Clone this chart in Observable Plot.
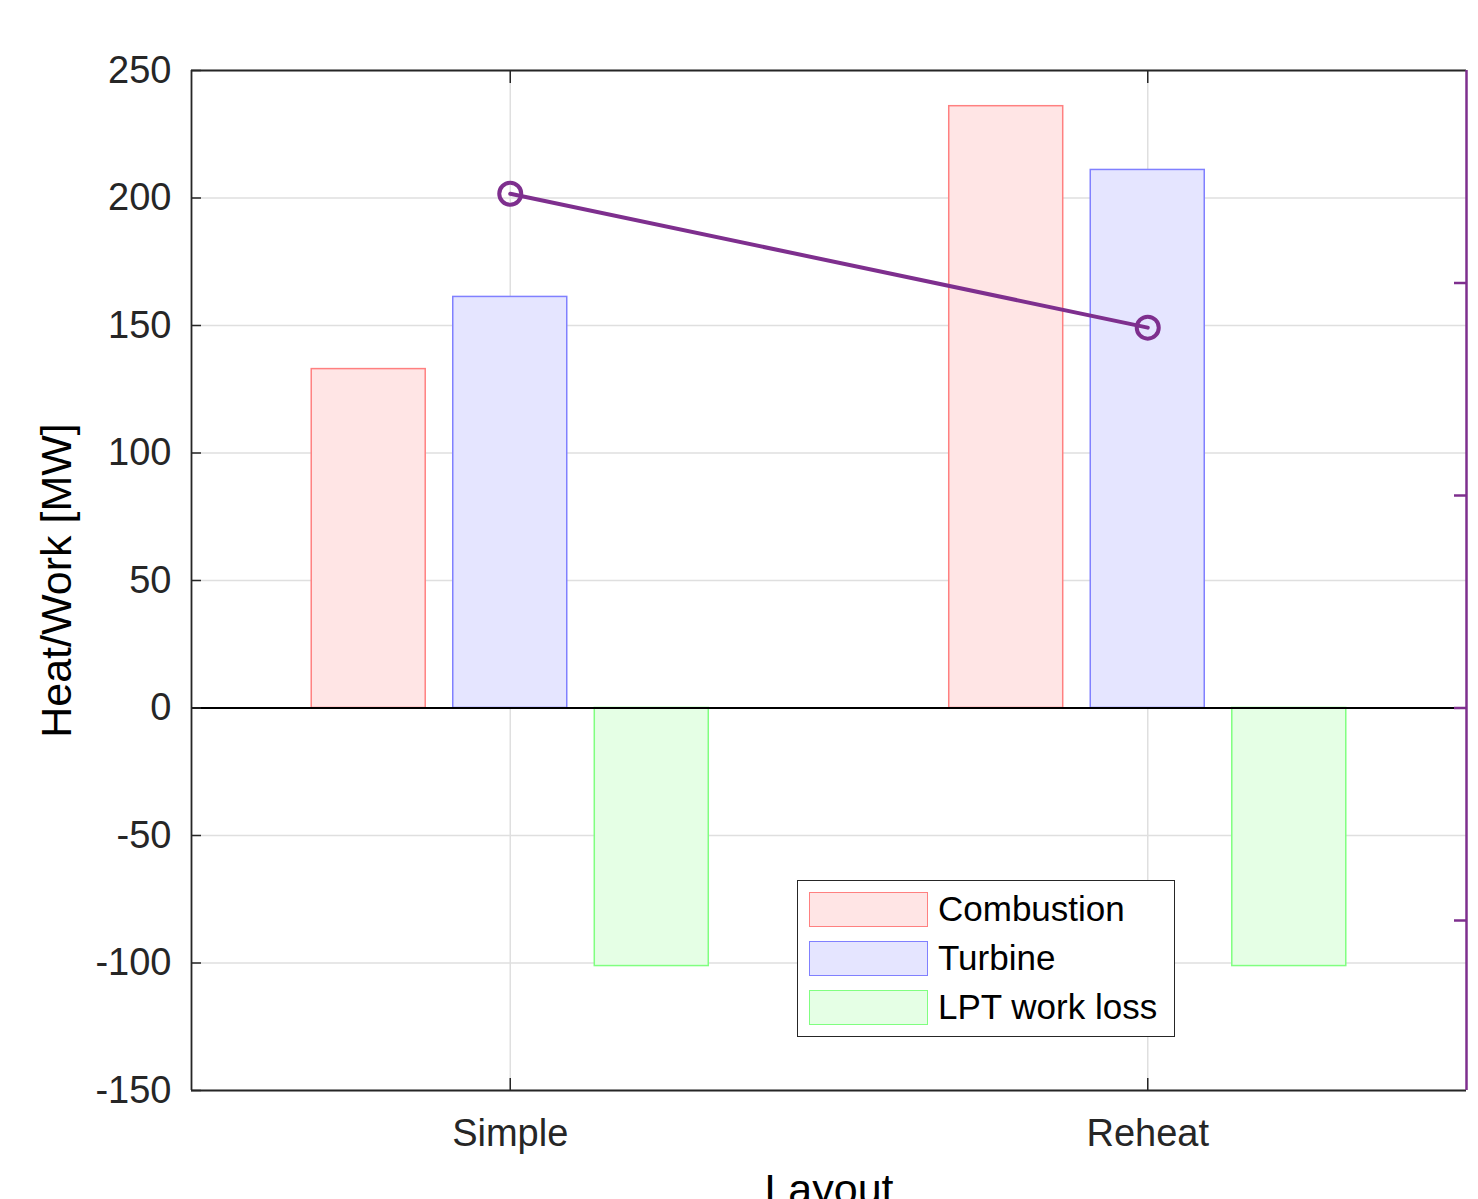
<!DOCTYPE html>
<html>
<head>
<meta charset="utf-8">
<script src="https://cdn.jsdelivr.net/npm/d3@7"></script>
<script src="https://cdn.jsdelivr.net/npm/@observablehq/plot@0.6"></script>
<style>
  html, body { margin: 0; padding: 0; background: #fff; }
  #wrap { position: relative; width: 1478px; height: 1199px; overflow: hidden; font-family: "Liberation Sans", Arial, sans-serif; }
  #legend { position: absolute; left: 797px; top: 880px; width: 376px; height: 155px; border: 1.5px solid #262626; background: #fff; }
  .item { position: absolute; left: 11px; height: 36px; display: flex; align-items: center; }
  .sw { width: 117px; height: 33px; border: 1.5px solid; margin-right: 10px; }
  .lab { font-size: 35px; color: #000; white-space: nowrap; }
</style>
</head>
<body>
<div id="wrap"><div id="chart"></div><div id="legend"></div></div>
<script>
// ---- data ----
const layouts = ["Simple", "Reheat"];
const series = ["Combustion", "Turbine", "LPT work loss"];
const combustion = [132.9, 236.0];
const turbine = [161.2, 211.0];
const lptLoss = [-101.2, -101.2];
const yTicks = [-150, -100, -50, 0, 50, 100, 150, 200, 250];
// right (purple) axis — labels lie outside the picture
const rightDomain = [26, 50];
const rightTicks = [30, 35, 40, 45];
const lineValues = [47.1, 43.95];

// ---- styles ----
const fills = ["#ffe5e5", "#e5e5ff", "#e5ffe5"];
const strokes = ["#ff8080", "#8080ff", "#80ff80"];
const purple = "#7e2f8e";
const axisColor = "#262626";

const offsets = [-0.222, 0, 0.222];
const halfW = 0.0894;
const seriesValues = [combustion, turbine, lptLoss];
const bars = [];
layouts.forEach((L, i) => {
  series.forEach((s, j) => {
    const c = i + 1 + offsets[j];
    bars.push({layout: L, series: s, x1: c - halfW, x2: c + halfW, value: seriesValues[j][i], fill: fills[j], stroke: strokes[j]});
  });
});
const toLeft = v => -150 + (v - rightDomain[0]) / (rightDomain[1] - rightDomain[0]) * 400;
const lineData = layouts.map((L, i) => ({x: i + 1, y: toLeft(lineValues[i])}));
const rightTickLeft = rightTicks.map(toLeft);

const chart = Plot.plot({
  width: 1478,
  height: 1199,
  marginLeft: 191,
  marginRight: 12,
  marginTop: 70,
  marginBottom: 109,
  style: {fontFamily: "'Liberation Sans', Arial, sans-serif", color: axisColor, background: "#fff"},
  x: {domain: [0.5, 2.5], axis: null},
  y: {domain: [-150, 250], axis: null},
  marks: [
    Plot.gridY(yTicks, {stroke: "#dfdfdf", strokeOpacity: 1, strokeWidth: 1.5}),
    Plot.gridX([1, 2], {stroke: "#dfdfdf", strokeOpacity: 1, strokeWidth: 1.5}),
    Plot.rect(bars, {x1: "x1", x2: "x2", y1: 0, y2: "value", fill: "fill", stroke: "stroke", strokeWidth: 1.5}),
    Plot.ruleY([0], {stroke: "#000", strokeWidth: 1.8}),
    Plot.line(lineData, {x: "x", y: "y", stroke: purple, strokeWidth: 4}),
    Plot.dot(lineData, {x: "x", y: "y", r: 11, stroke: purple, strokeWidth: 4, fill: "none"}),
    // frame
    Plot.ruleX([0.5], {stroke: axisColor, strokeWidth: 1.8}),
    Plot.ruleY([250, -150], {stroke: axisColor, strokeWidth: 1.8}),
    Plot.ruleX([2.5], {stroke: purple, strokeWidth: 2.5}),
    // left axis
    Plot.axisY({ticks: yTicks, tickSize: 0, tickPadding: 20, tickFormat: d => String(d), fontSize: 38, label: null, anchor: "left"}),
    Plot.axisY({ticks: yTicks, tickSize: -10, tickFormat: () => "", label: null, anchor: "left", stroke: axisColor, strokeWidth: 1.5}),
    // right axis ticks
    Plot.axisY({ticks: rightTickLeft, tickSize: -13, tickFormat: () => "", label: null, anchor: "right", stroke: purple, strokeWidth: 2.5}),
    // x axis
    Plot.axisX({ticks: [1, 2], tickSize: 0, tickPadding: 29, tickFormat: d => layouts[d - 1], fontSize: 38, label: null, anchor: "bottom"}),
    Plot.axisX({ticks: [1, 2], tickSize: -12, tickFormat: () => "", label: null, anchor: "bottom", stroke: axisColor, strokeWidth: 1.5}),
    Plot.axisX({ticks: [1, 2], tickSize: -12, tickFormat: () => "", label: null, anchor: "top", stroke: axisColor, strokeWidth: 1.5}),
    // axis titles
    Plot.text(["Heat/Work [MW]"], {frameAnchor: "left", textAnchor: "middle", lineAnchor: "middle", rotate: -90, dx: -134, fontSize: 43, fill: "#000"}),
    Plot.text(["Layout"], {frameAnchor: "bottom", lineAnchor: "top", dy: 83, fontSize: 43, fill: "#000"})
  ]
});
document.getElementById("chart").appendChild(chart);

// legend
const leg = document.getElementById("legend");
series.forEach((s, j) => {
  const it = document.createElement("div");
  it.className = "item";
  it.style.top = (10 + j * 49) + "px";
  const sw = document.createElement("div");
  sw.className = "sw";
  sw.style.background = fills[j];
  sw.style.borderColor = strokes[j];
  const lab = document.createElement("div");
  lab.className = "lab";
  lab.textContent = s;
  it.appendChild(sw); it.appendChild(lab);
  leg.appendChild(it);
});
</script>
</body>
</html>
